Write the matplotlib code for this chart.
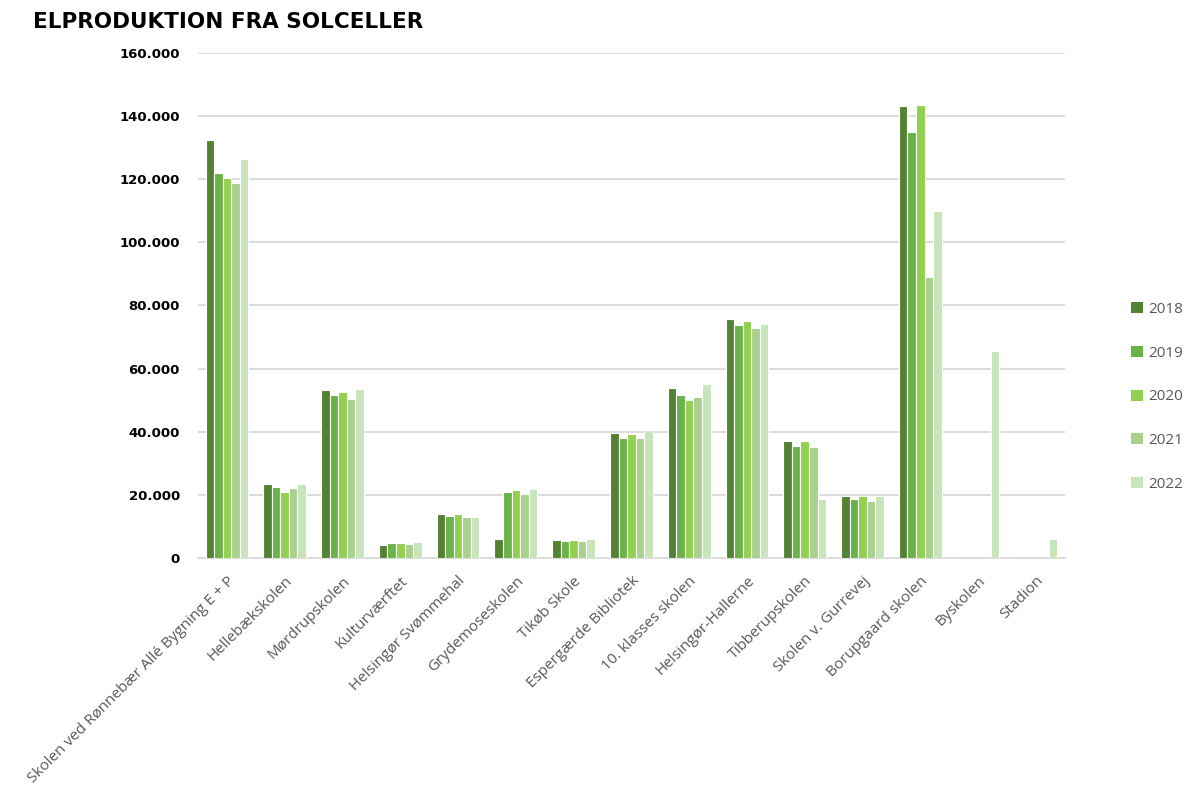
import numpy as np
import matplotlib.pyplot as plt
from matplotlib.ticker import FuncFormatter
from matplotlib.patches import Patch

# Data (kWh)
sites = [
    "Skolen ved Rønnebær Allé Bygning E + P",
    "Hellebækskolen",
    "Mørdrupskolen",
    "Kulturværftet",
    "Helsingør Svømmehal",
    "Grydemoseskolen",
    "Tikøb Skole",
    "Espergærde Bibliotek",
    "10. klasses skolen",
    "Helsingør-Hallerne",
    "Tibberupskolen",
    "Skolen v. Gurrevej",
    "Borupgaard skolen",
    "Byskolen",
    "Stadion",
]
years = ["2018", "2019", "2020", "2021", "2022"]

prod_2018 = [132350, 23350, 53300, 4120, 13940, 6100, 5800, 39700, 53760, 75700, 36950, 19650, 143200, 0, 0]
prod_2019 = [122000, 22400, 51550, 4650, 13300, 20800, 5380, 38100, 51650, 73800, 35500, 18800, 135000, 0, 0]
prod_2020 = [120500, 20900, 52500, 4750, 13830, 21450, 5600, 39300, 49960, 75100, 36950, 19540, 143500, 0, 0]
prod_2021 = [118800, 22200, 50400, 4540, 13000, 20400, 5500, 38100, 51120, 72900, 35050, 18150, 89000, 0, 0]
prod_2022 = [126300, 23450, 53650, 4960, 13000, 21900, 5920, 40560, 55030, 74250, 18800, 19750, 110000, 65600, 6000]

series = [prod_2018, prod_2019, prod_2020, prod_2021, prod_2022]
colors = ["#548235", "#6AB24A", "#92D050", "#A9D18E", "#C8E4BA"]

fig = plt.figure(figsize=(11.87, 7.94), dpi=100)
ax = fig.add_axes([0.1668, 0.2972, 0.897 - 0.1668, 0.9333 - 0.2972])

x = np.arange(len(sites))
group_w = 0.74
bar_w = group_w / len(years)
for i, (vals, col) in enumerate(zip(series, colors)):
    offs = -group_w / 2 + bar_w * (i + 0.5)
    ax.bar(x + offs, vals, width=bar_w, color=col, edgecolor="white", linewidth=0.8, zorder=3)

ax.set_xlim(-0.5, len(sites) - 0.5)
ax.set_ylim(0, 160000)
ax.set_yticks(np.arange(0, 160001, 20000))
ax.yaxis.set_major_formatter(FuncFormatter(lambda v, p: f"{int(v):,}".replace(",", ".")))
ax.grid(axis="y", color="#D9D9D9", linewidth=1.3, zorder=0)
for s in ["top", "right", "left"]:
    ax.spines[s].set_visible(False)
ax.spines["bottom"].set_color("#D9D9D9")
ax.spines["bottom"].set_linewidth(1.3)
ax.tick_params(axis="both", length=0)
ax.tick_params(axis="y", pad=13)

for lab in ax.get_yticklabels():
    lab.set_fontfamily("DejaVu Sans")
    lab.set_fontweight("bold")
    lab.set_fontsize(9.5)
    lab.set_color("black")

ax.set_xticks(x)
ax.set_xticklabels(sites, rotation=45, ha="right", rotation_mode="anchor",
                   fontsize=11, color="#595959", fontfamily="Open Sans")
ax.tick_params(axis="x", pad=11)

fig.text(0.028, 0.972, "ELPRODUKTION FRA SOLCELLER", fontsize=15.5, fontweight="bold",
         fontfamily="DejaVu Sans", va="center", ha="left")

handles = [Patch(facecolor=c, edgecolor="none") for c in colors]
fig.legend(handles, years, loc="center left", bbox_to_anchor=(0.953, 0.5),
           frameon=False, labelspacing=1.88, handlelength=0.75, borderpad=0,
           borderaxespad=0, handleheight=0.75, handletextpad=0.35, labelcolor="#595959",
           prop={"family": "Open Sans", "size": 11})

fig.savefig("out.png", dpi=100)
